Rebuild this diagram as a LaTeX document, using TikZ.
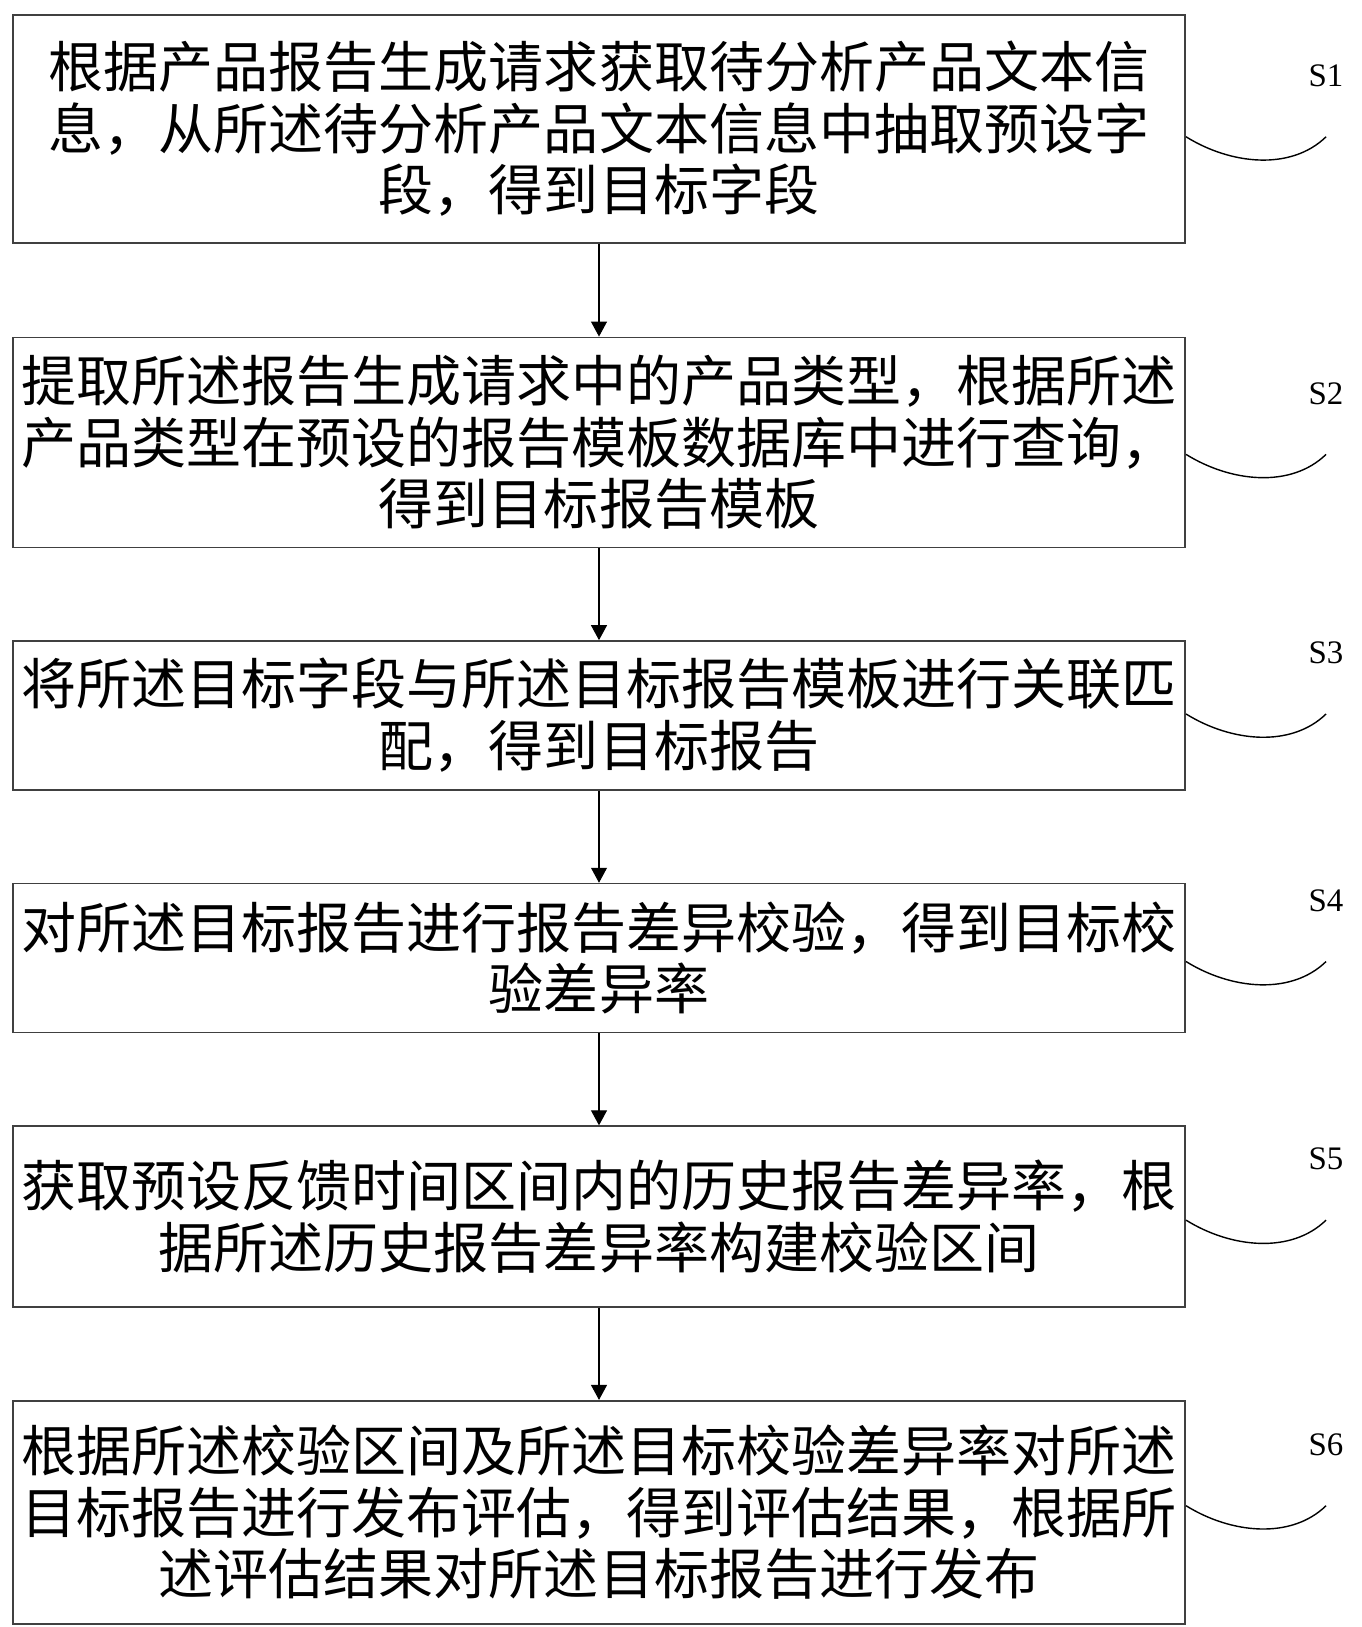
\documentclass[tikz,border=0pt]{standalone}
\usepackage{fontspec}
\setmainfont{Liberation Serif}
\newfontfamily\cjk{Noto Sans CJK SC}
\usetikzlibrary{positioning, arrows.meta}

\begin{document}
\begin{tikzpicture}[->,>={Triangle[length=0.3cm,width=0.32cm]},node distance=1.84cm,
		stepbox/.style={draw=black!75, line width=0.9pt, align=center, minimum width=23.45cm, inner sep=0pt, font=\cjk\fontsize{31.3pt}{35.1pt}\selectfont},
		steplabel/.style={font=\fontsize{18.7pt}{22pt}\selectfont},
		tick/.style={-, line width=0.8pt}]
		\useasboundingbox (0,0) rectangle (27.22,-32.54);

		\node[stepbox, anchor=north, minimum height=4.56cm			] (S1box) at (11.98,-0.28)	{根据产品报告生成请求获取待分析产品文本信\\息，从所述待分析产品文本信息中抽取预设字\\段，得到目标字段};
		\node[stepbox, below=1.86cm of S1box, minimum height=4.20cm	] (S2box) 	{提取所述报告生成请求中的产品类型，根据所述\\产品类型在预设的报告模板数据库中进行查询，\\得到目标报告模板};
		\node[stepbox, below=of S2box, minimum height=2.98cm		] (S3box) 	{将所述目标字段与所述目标报告模板进行关联匹\\配，得到目标报告};
		\node[stepbox, below=of S3box, minimum height=2.98cm		] (S4box) 	{对所述目标报告进行报告差异校验，得到目标校\\验差异率};
		\node[stepbox, below=of S4box, minimum height=3.62cm		] (S5box) 	{获取预设反馈时间区间内的历史报告差异率，根\\据所述历史报告差异率构建校验区间};
		\node[stepbox, below=of S5box, minimum height=4.46cm		] (S6box) 	{根据所述校验区间及所述目标校验差异率对所述\\目标报告进行发布评估，得到评估结果，根据所\\述评估结果对所述目标报告进行发布};

		\draw[line width=0.6pt]	(S1box) -- (S2box);
		\draw[line width=0.6pt]	(S2box) -- (S3box);
		\draw[line width=0.6pt]	(S3box) -- (S4box);
		\draw[line width=0.6pt]	(S4box) -- (S5box);
		\draw[line width=0.6pt]	(S5box) -- (S6box);

		% step labels
		\coordinate (T1a) at ([yshift=-0.16cm]S1box.east);	\coordinate (T1b) at ([xshift=2.8cm]T1a);
		\coordinate (T2a) at ([yshift=-0.24cm]S2box.east);	\coordinate (T2b) at ([xshift=2.8cm]T2a);
		\coordinate (T3a) at ([yshift=0.03cm]S3box.east);	\coordinate (T3b) at ([xshift=2.8cm]T3a);
		\coordinate (T4a) at ([yshift=-0.07cm]S4box.east);	\coordinate (T4b) at ([xshift=2.8cm]T4a);
		\coordinate (T5a) at ([yshift=-0.07cm]S5box.east);	\coordinate (T5b) at ([xshift=2.8cm]T5a);
		\coordinate (T6a) at ([yshift=0.13cm]S6box.east);	\coordinate (T6b) at ([xshift=2.8cm]T6a);

		\node[steplabel] (L1) at ([yshift=1.22cm]T1b) {S1};
		\node[steplabel] (L2) at ([yshift=1.22cm]T2b) {S2};
		\node[steplabel] (L3) at ([yshift=1.22cm]T3b) {S3};
		\node[steplabel] (L4) at ([yshift=1.22cm]T4b) {S4};
		\node[steplabel] (L5) at ([yshift=1.22cm]T5b) {S5};
		\node[steplabel] (L6) at ([yshift=1.22cm]T6b) {S6};

		\draw[tick] (T1a) .. controls +(0.9,-0.56) and +(-0.7,-0.68) .. (T1b);
		\draw[tick] (T2a) .. controls +(0.9,-0.56) and +(-0.7,-0.68) .. (T2b);
		\draw[tick] (T3a) .. controls +(0.9,-0.56) and +(-0.7,-0.68) .. (T3b);
		\draw[tick] (T4a) .. controls +(0.9,-0.56) and +(-0.7,-0.68) .. (T4b);
		\draw[tick] (T5a) .. controls +(0.9,-0.56) and +(-0.7,-0.68) .. (T5b);
		\draw[tick] (T6a) .. controls +(0.9,-0.56) and +(-0.7,-0.68) .. (T6b);
\end{tikzpicture}
\end{document}
